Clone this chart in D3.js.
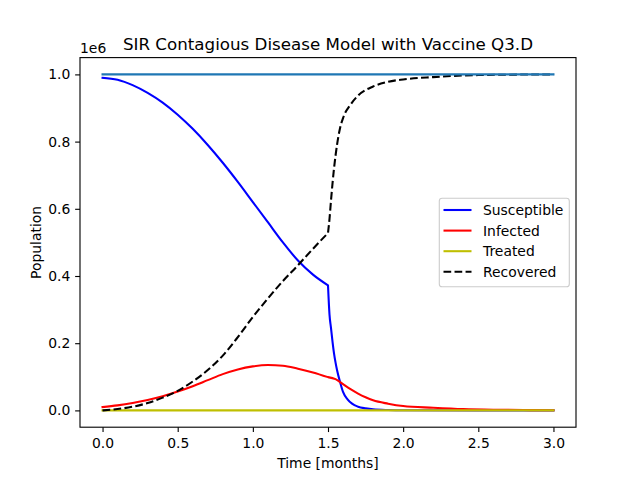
<!DOCTYPE html>
<html>
<head>
<meta charset="utf-8">
<script src="https://cdn.jsdelivr.net/npm/d3@7"></script>
<style>
  html, body { margin: 0; padding: 0; background: #fff; }
  text { font-family: "DejaVu Sans", sans-serif; }
</style>
</head>
<body>
<svg id="chart" width="640" height="480"></svg>
<script>
// ---- Data ----
const susceptibleT = [0, 0.1, 0.2, 0.3, 0.4, 0.5, 0.6, 0.7, 0.8, 0.9, 1.0, 1.1, 1.2, 1.3, 1.4, 1.5,
  1.51, 1.52, 1.53, 1.54, 1.55, 1.56, 1.58, 1.6, 1.63, 1.66, 1.7, 1.75, 1.8, 1.9, 2.0, 3.0];
const susceptible = [990000, 984000, 968000, 945000, 916000, 880000, 838000, 790000, 737000, 680000,
  620000, 560000, 500000, 446000, 404000, 372000,
  285000, 245000, 205000, 170000, 143000, 120000, 85000, 55000, 33000, 20000, 11000, 6000, 3000, 1000, 300, 0];

const infectedT = [0, 0.1, 0.2, 0.3, 0.4, 0.5, 0.6, 0.7, 0.8, 0.9, 1.0, 1.1, 1.2, 1.3, 1.4, 1.5,
  1.55, 1.6, 1.65, 1.7, 1.75, 1.8, 1.9, 2.0, 2.2, 2.4, 2.6, 2.8, 3.0];
const infected = [10000, 15000, 22000, 31000, 42000, 56000, 72000, 90000, 108000, 122000, 131000,
  135000, 133000, 124000, 113000, 99000,
  93000, 78000, 63000, 50000, 39000, 30000, 20000, 13000, 8000, 4000, 2000, 1000, 500];

const treatedT = [0, 3.0];
const treated = [0, 0];

const recoveredT = [0, 0.1, 0.2, 0.3, 0.4, 0.5, 0.6, 0.7, 0.8, 0.9, 1.0, 1.1, 1.2, 1.3, 1.4, 1.5,
  1.51, 1.52, 1.54, 1.56, 1.58, 1.6, 1.65, 1.7, 1.8, 1.9, 2.0, 2.2, 2.5, 3.0];
const recovered = [0, 4000, 11000, 22000, 38000, 58000, 86000, 120000, 163000, 218000, 278000,
  333000, 385000, 432000, 481000, 528000,
  570000, 625000, 720000, 790000, 840000, 870000, 910000, 937000, 964000, 978000, 985000, 992000, 998000, 1000000];

const totalT = [0, 3.0];
const total = [1000000, 1000000];

const vaccineTime = 1.5;
const xTicks = [0, 0.5, 1.0, 1.5, 2.0, 2.5, 3.0];
const yTicks = [0, 200000, 400000, 600000, 800000, 1000000];
const legendLabels = ["Susceptible", "Infected", "Treated", "Recovered"];

// ---- Layout ----
const svg = d3.select("#chart");
const L = 80, R = 576, T = 57.6, B = 427.2;
const fs = 13.9;
const lw = 2.08;

svg.append("rect").attr("x", 0).attr("y", 0).attr("width", 640).attr("height", 480).attr("fill", "#fff");

const x = d3.scaleLinear().domain([-0.15, 3.15]).range([L, R]);
const y = d3.scaleLinear().domain([-50000, 1050000]).range([B, T]);

const line = d3.line().x(d => x(d[0])).y(d => y(d[1])).curve(d3.curveMonotoneX);
const zip = (ts, vs) => ts.map((t, i) => [t, vs[i]]);
// split at the vaccination time so the kink stays sharp
function pathD(ts, vs) {
  const pts = zip(ts, vs);
  const a = pts.filter(p => p[0] <= vaccineTime);
  const b = pts.filter(p => p[0] >= vaccineTime);
  if (a.length < 2 || b.length < 2) return line(pts);
  const db = line(b);
  return line(a) + "L" + db.slice(1).replace(/^[^CLM]*/, m => m);
}

const series = [
  { t: susceptibleT, v: susceptible, color: "#0000ff", dash: null },
  { t: infectedT, v: infected, color: "#ff0000", dash: null },
  { t: treatedT, v: treated, color: "#bfbf00", dash: null },
  { t: recoveredT, v: recovered, color: "#000000", dash: "7.7,3.33" },
  { t: totalT, v: total, color: "#1f77b4", dash: null }
];

const g = svg.append("g");
series.forEach(s => {
  const pts = zip(s.t, s.v);
  const a = pts.filter(p => p[0] <= vaccineTime);
  const b = pts.filter(p => p[0] >= vaccineTime);
  let d;
  if (a.length >= 2 && b.length >= 2) {
    const da = line(a);
    const dbb = line(b);
    // continue second segment from end of first (drop its initial M)
    d = da + dbb.replace(/^M[^CLZ]*/, "");
  } else {
    d = line(pts);
  }
  g.append("path")
    .attr("d", d)
    .attr("fill", "none")
    .attr("stroke", s.color)
    .attr("stroke-width", lw)
    .attr("stroke-dasharray", s.dash)
    .attr("stroke-linejoin", "round")
    .attr("stroke-linecap", s.dash ? "butt" : "square");
});

// Axes
const xAxis = d3.axisBottom(x).tickValues(xTicks).tickFormat(d3.format(".1f"))
  .tickSize(4.86).tickPadding(4.86);
const yAxis = d3.axisLeft(y).tickValues(yTicks).tickFormat(d => d3.format(".1f")(d / 1e6))
  .tickSize(4.86).tickPadding(4.86);

const gx = svg.append("g").attr("transform", `translate(0,${B})`).call(xAxis);
const gy = svg.append("g").attr("transform", `translate(${L},0)`).call(yAxis);
[gx, gy].forEach(a => {
  a.select(".domain").remove();
  a.selectAll(".tick line").attr("stroke", "#000").attr("stroke-width", 1.11);
  a.selectAll(".tick text").attr("fill", "#000").style("font-size", fs + "px")
    .style("font-family", "'DejaVu Sans', sans-serif");
});
gx.selectAll(".tick text").attr("dy", "0.8em");

// Spines
svg.append("rect").attr("x", L).attr("y", T).attr("width", R - L).attr("height", B - T)
  .attr("fill", "none").attr("stroke", "#000").attr("stroke-width", 1.11);

// Offset text
svg.append("text").attr("x", L).attr("y", 53).style("font-size", fs + "px").text("1e6");

// Title
svg.append("text").attr("x", (L + R) / 2).attr("y", 49.5).attr("text-anchor", "middle")
  .style("font-size", "16.7px").text("SIR Contagious Disease Model with Vaccine Q3.D");

// Axis labels
svg.append("text").attr("x", (L + R) / 2).attr("y", 468).attr("text-anchor", "middle")
  .style("font-size", fs + "px").text("Time [months]");
svg.append("text").attr("transform", `translate(41,${(T + B) / 2}) rotate(-90)`)
  .attr("text-anchor", "middle").style("font-size", fs + "px").text("Population");

// Legend
const lg = svg.append("g");
lg.append("rect").attr("x", 439.3).attr("y", 198.3).attr("width", 130).attr("height", 88.4)
  .attr("rx", 2.8).attr("fill", "#fff").attr("fill-opacity", 0.8)
  .attr("stroke", "#cccccc").attr("stroke-width", 1.11);
const rowY = [210, 230.6, 251.2, 271.8];
legendLabels.forEach((lab, i) => {
  const s = series[i];
  lg.append("line").attr("x1", 443.5).attr("x2", 471.5).attr("y1", rowY[i]).attr("y2", rowY[i])
    .attr("stroke", s.color).attr("stroke-width", lw).attr("stroke-dasharray", s.dash);
  lg.append("text").attr("x", 483).attr("y", rowY[i]).attr("dy", "0.36em")
    .style("font-size", fs + "px").text(lab);
});
</script>
</body>
</html>
